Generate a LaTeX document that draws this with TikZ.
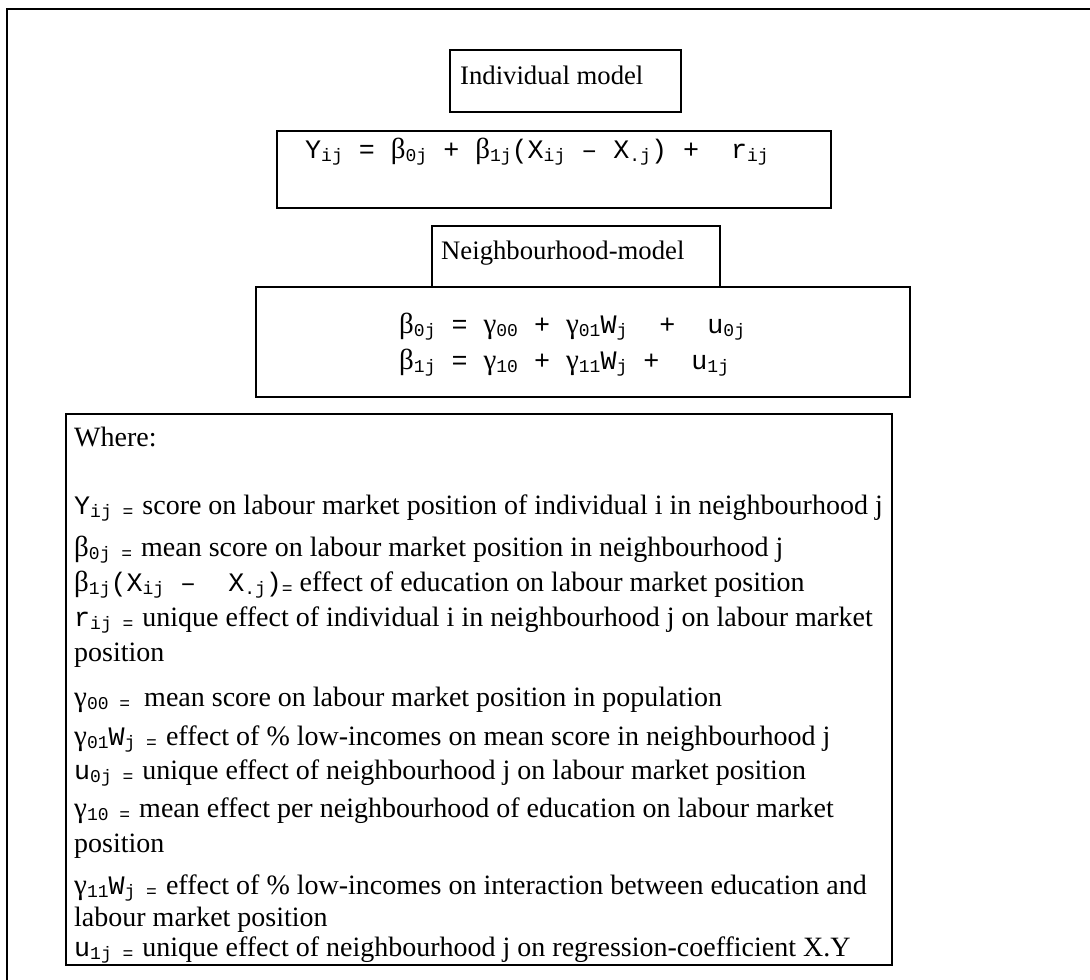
\documentclass[tikz,border=0pt]{standalone}
\usepackage{fontspec}
\setmainfont{Liberation Serif}
\newfontfamily\mono{Liberation Mono}
\newfontfamily\grk{Liberation Serif}
\newcommand{\Mo}[1]{{\fontsize{26.7}{30}\selectfont\mono #1}}
\newcommand{\Sb}[1]{\raisebox{-3.5pt}{\fontsize{18}{18}\selectfont\mono #1}}
\newcommand{\Gk}[1]{{\fontsize{29}{29}\selectfont\grk #1}}
\begin{document}
\begin{tikzpicture}[x=1pt,y=-1pt,
  box/.style={draw=black,line width=1.6pt,rectangle,inner sep=0pt,anchor=north west},
  lbl/.style={anchor=base west,inner sep=0pt,font=\fontsize{26.7}{30}\selectfont},
  txt/.style={anchor=base west,inner sep=0pt,font=\fontsize{28}{31}\selectfont}]
\useasboundingbox (0,0) rectangle (1090,980);
% outer frame (cut at right and bottom)
\draw[line width=2.6pt] (7,1000) -- (7,9) -- (1100,9);
% boxes
\node[box,minimum width=231pt,minimum height=62pt] (indlab) at (449,49) {};
\node[box,minimum width=554pt,minimum height=77pt] (indeq) at (276,130) {};
\node[box,minimum width=288pt,minimum height=61pt] (nblab) at (431,225) {};
\node[box,minimum width=654pt,minimum height=110pt] (nbeq) at (255,286) {};
\node[box,minimum width=826pt,minimum height=551pt] (where) at (65,413) {};
% labels
\node[lbl] (t1) at (460,84) {Individual model};
\node[lbl] (t2) at (441,259) {Neighbourhood-model};
% equation 1
\node[lbl] (e1) at (305,158) {\Mo{Y}\Sb{ij}\Mo{\ =\ }\Gk{β}\Sb{0j}\Mo{\ +\ }\Gk{β}\Sb{1j}\Mo{(X}\Sb{ij}\Mo{\ –\ X}\Sb{.j}\Mo{)\ +\ \ r}\Sb{ij}};
% equations 2
\node[lbl] (e2) at (399,333) {\Gk{β}\Sb{0j}\Mo{\ =\ }\Gk{γ}\Sb{00}\Mo{\ +\ }\Gk{γ}\Sb{01}\Mo{W}\Sb{j}\Mo{\ \ +\ \ u}\Sb{0j}};
\node[lbl] (e3) at (399,369) {\Gk{β}\Sb{1j}\Mo{\ =\ }\Gk{γ}\Sb{10}\Mo{\ +\ }\Gk{γ}\Sb{11}\Mo{W}\Sb{j}\Mo{\ +\ \ u}\Sb{1j}};
% where list
\node[txt] (w0) at (74,446) {Where:};
\node[txt] (w1) at (74,514) {\Mo{Y}\Sb{ij =}\hspace{2pt} score on labour market position of individual i in neighbourhood j};
\node[txt] (w2) at (74,556) {\Gk{β}\Sb{0j =}\hspace{2pt} mean score on labour market position in neighbourhood j};
\node[txt] (w3) at (74,591) {\Gk{β}\Sb{1j}\Mo{(X}\Sb{ij}\Mo{\ –\ \ X}\Sb{.j}\Mo{)}\Sb{=} effect of education on labour market position};
\node[txt] (w4) at (74,626) {\Mo{r}\Sb{ij =}\hspace{2pt} unique effect of individual i in neighbourhood j on labour market};
\node[txt] (w5) at (74,661) {position};
\node[txt] (w6) at (74,706) {\Gk{γ}\Sb{00 =}\ \ mean score on labour market position in population};
\node[txt] (w7) at (74,745) {\Gk{γ}\Sb{01}\Mo{W}\Sb{j =}\hspace{2pt} effect of \% low-incomes on mean score in neighbourhood j};
\node[txt] (w8) at (74,779) {\Mo{u}\Sb{0j =}\hspace{2pt} unique effect of neighbourhood j on labour market position};
\node[txt] (w9) at (74,817) {\Gk{γ}\Sb{10 =}\hspace{2pt} mean effect per neighbourhood of education on labour market};
\node[txt] (w10) at (74,852) {position};
\node[txt] (w11) at (74,894) {\Gk{γ}\Sb{11}\Mo{W}\Sb{j =}\hspace{2pt} effect of \% low-incomes on interaction between education and};
\node[txt] (w12) at (74,926) {labour market position};
\node[txt] (w13) at (74,956) {\Mo{u}\Sb{1j =}\hspace{2pt} unique effect of neighbourhood j on regression-coefficient X.Y};
\end{tikzpicture}
\end{document}
